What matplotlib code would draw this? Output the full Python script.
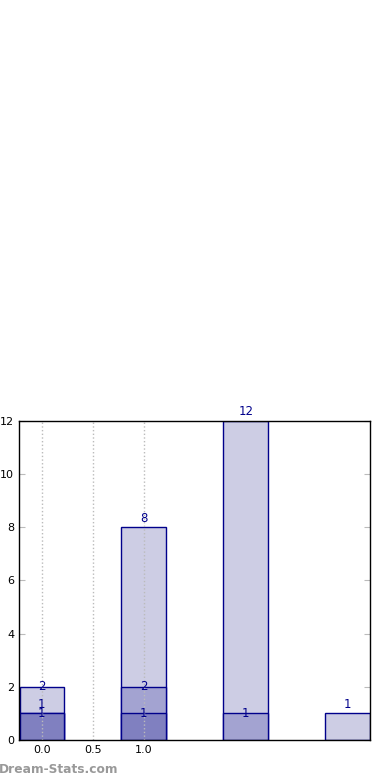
import matplotlib
matplotlib.use("Agg")
import matplotlib.pyplot as plt

# -------------------------------
# Data
# -------------------------------
positions = [0, 1, 2, 3]
light_vals = [2, 8, 12, 1]
medium_pos = [0, 1, 2]
medium_vals = [1, 2, 1]
dark_pos = [0, 1]
dark_vals = [1, 1]
xtick_vals = [0.0, 0.5, 1.0]
xtick_labels = ["0.0", "0.5", "1.0"]
ytick_vals = [0, 2, 4, 6, 8, 10, 12]

# label vertical offsets in points (0 = centred on bar top)
light_off = [0, 6.5, 6.5, 6.5]
medium_off = [6.5, 0, 0]
dark_off = [0, 0]

navy = "#00008b"
c_light = "#cdcde4"
c_medium = "#a3a3d1"
c_dark = "#8080c0"

# -------------------------------
# Plot
# -------------------------------
fig = plt.figure(figsize=(3.9, 7.8), dpi=100)
ax = fig.add_axes([0.0487, 0.0513, 0.9, 0.409])

w = 0.44
ax.bar(positions, light_vals, width=w, color=c_light, edgecolor=navy, linewidth=1, zorder=2)
ax.bar(medium_pos, medium_vals, width=w, color=c_medium, edgecolor=navy, linewidth=1, zorder=3)
ax.bar(dark_pos, dark_vals, width=w, color=c_dark, edgecolor=navy, linewidth=1, zorder=4)

def put_labels(xs, vs, offs, col):
    for x, v, o in zip(xs, vs, offs):
        ax.annotate(str(v), (x, v), xytext=(0, o), textcoords="offset points",
                    ha="center", va="center", fontsize=8.5, color=col, zorder=6)

put_labels(positions, light_vals, light_off, navy)
put_labels(medium_pos, medium_vals, medium_off, navy)
put_labels(dark_pos, dark_vals, dark_off, navy)

ax.set_xlim(-0.225, 3.22)
ax.set_ylim(0, 12)
ax.set_xticks(xtick_vals)
ax.set_xticklabels(xtick_labels)
ax.set_yticks(ytick_vals)
ax.tick_params(axis="both", labelsize=8, color="#bbbbbb", length=4, direction="in")
ax.tick_params(axis="y", right=True)
ax.tick_params(axis="x", length=0)
for x in xtick_vals:
    ax.axvline(x, color="#bbbbbb", linestyle=":", linewidth=1, zorder=5)
for s in ax.spines.values():
    s.set_linewidth(1)
    s.set_zorder(7)

fig.text(-0.003, 0.005, "Dream-Stats.com", fontsize=8.8, fontweight="bold", color="#999999",
         ha="left", va="bottom")

fig.savefig("out.png", dpi=100)
